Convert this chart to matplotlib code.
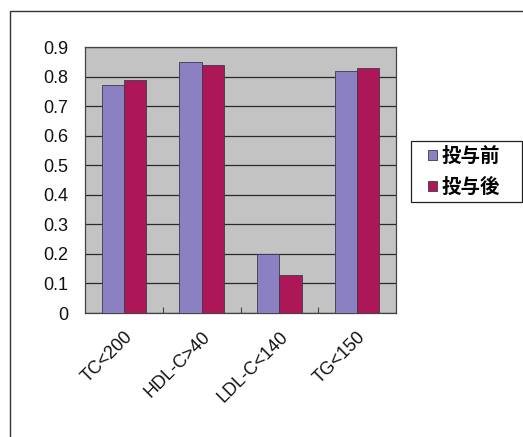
import matplotlib
matplotlib.use("Agg")
import matplotlib.pyplot as plt
import numpy as np
from matplotlib.patches import Rectangle

categories = ["TC<200", "HDL-C>40", "LDL-C<140", "TG<150"]
series_names = ["投与前", "投与後"]
before = [0.77, 0.85, 0.20, 0.82]
after = [0.79, 0.84, 0.13, 0.83]
yticks = [0, 0.1, 0.2, 0.3, 0.4, 0.5, 0.6, 0.7, 0.8, 0.9]

plt.rcParams['font.family'] = ['Liberation Sans', 'Noto Sans CJK JP', 'DejaVu Sans']

W, H = 523, 437
fig = plt.figure(figsize=(W / 100, H / 100), dpi=100)
fig.patch.set_facecolor("white")

# outer chart-area frame (top and left edges visible)
fig.patches.append(Rectangle((10 / W, -0.1), 1.2, (H - 11) / H + 0.1,
                             transform=fig.transFigure, fill=False,
                             edgecolor="#333333", linewidth=1.0))

ax = fig.add_axes([85 / W, (H - 313) / H, (396 - 85) / W, (313 - 47) / H])
ax.set_facecolor("#c3c3c3")

x = np.arange(len(categories))
w = 1 / 3.5
c_before = "#8a80c2"
c_after = "#ad1757"
ax.bar(x - w / 2, before, w, color=c_before, edgecolor="#3a3a4a", linewidth=0.6,
       label=series_names[0], zorder=3)
ax.bar(x + w / 2, after, w, color=c_after, edgecolor="#3a3a4a", linewidth=0.6,
       label=series_names[1], zorder=3)

ax.set_xlim(-0.5, len(categories) - 0.5)
ax.set_ylim(0, 0.9)
ax.set_yticks(yticks)
ax.set_yticklabels(["0" if v == 0 else f"{v:.1f}" for v in yticks], fontsize=13)
ax.yaxis.grid(True, color="#2a2a2a", linewidth=0.9, zorder=1)
ax.set_axisbelow(True)
ax.tick_params(axis="y", length=0, pad=12, colors="#111111")

ax.set_xticks(x)
ax.set_xticklabels(categories, rotation=45, ha="right", va="top",
                   rotation_mode="anchor", fontsize=13, color="#111111")
ax.tick_params(axis="x", length=0, pad=11)
ax.set_xticks(np.arange(0.5, len(categories) - 0.5, 1), minor=True)
ax.tick_params(axis="x", which="minor", direction="in", length=4,
               color="#444444", width=0.8)

for s in ax.spines.values():
    s.set_color("#444444")
    s.set_linewidth(0.9)

# legend box
fig.patches.append(Rectangle((411 / W, 1 - 202 / H), 111 / W, 61 / H,
                             transform=fig.transFigure, facecolor="white",
                             edgecolor="#222222", linewidth=0.9))
leg = fig.legend(loc="center left", bbox_to_anchor=(428 / W, 1 - 172 / H),
                 bbox_transform=fig.transFigure, frameon=False,
                 prop={"family": ["Noto Sans CJK JP"], "size": 14, "weight": "bold"},
                 handlelength=0.45, handleheight=0.45, handletextpad=0.25,
                 borderpad=0, labelspacing=0.6, borderaxespad=0)

fig.savefig("out.png", dpi=100, facecolor=fig.get_facecolor())
